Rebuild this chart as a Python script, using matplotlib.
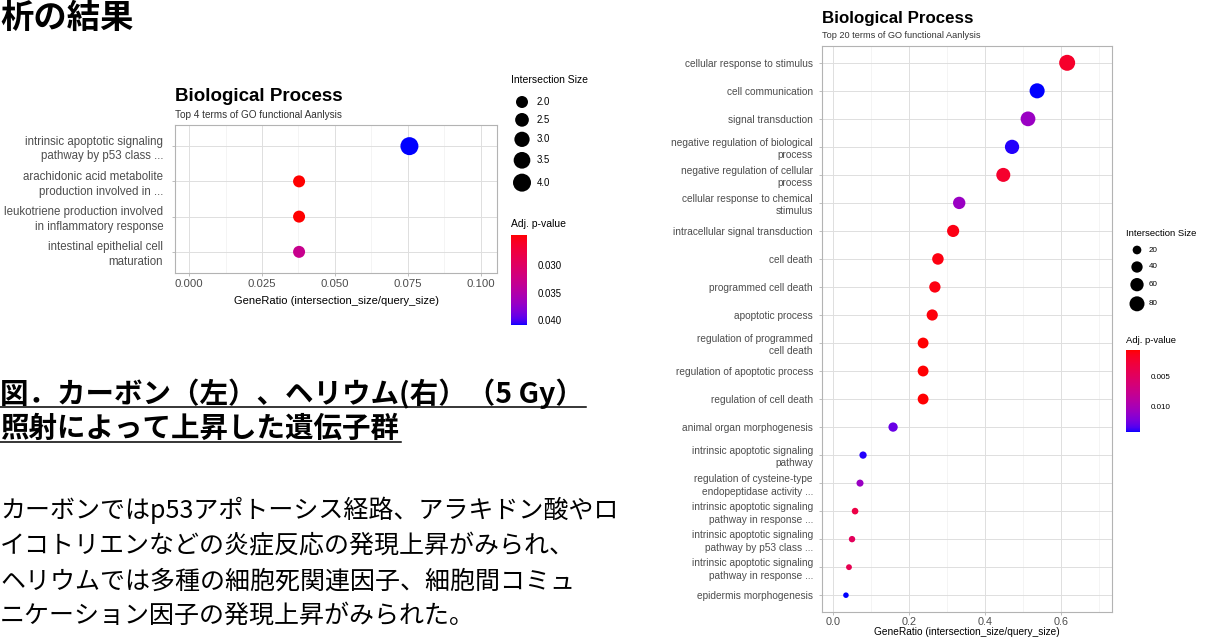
import numpy as np
import matplotlib
matplotlib.use("Agg")
import matplotlib.pyplot as plt
from matplotlib.colors import ListedColormap, Normalize
from matplotlib.cm import ScalarMappable
from matplotlib.lines import Line2D

W, H = 1207, 641

# ---- left panel (carbon) ----
left_terms = [
    "intrinsic apoptotic signaling\npathway by p53 class ...",
    "arachidonic acid metabolite\nproduction involved in ...",
    "leukotriene production involved\nin inflammatory response",
    "intestinal epithelial cell\nmaturation",
]
left_ratio = [0.0755, 0.0377, 0.0377, 0.0377]
left_size = [4, 2, 2, 2]
left_padj = [0.0409, 0.0245, 0.0245, 0.0330]
left_xticks = [0.000, 0.025, 0.050, 0.075, 0.100]
left_size_keys = [2.0, 2.5, 3.0, 3.5, 4.0]
left_p_ticks = [0.030, 0.035, 0.040]

# ---- right panel (helium) ----
right_terms = [
    "cellular response to stimulus",
    "cell communication",
    "signal transduction",
    "negative regulation of biological\nprocess",
    "negative regulation of cellular\nprocess",
    "cellular response to chemical\nstimulus",
    "intracellular signal transduction",
    "cell death",
    "programmed cell death",
    "apoptotic process",
    "regulation of programmed\ncell death",
    "regulation of apoptotic process",
    "regulation of cell death",
    "animal organ morphogenesis",
    "intrinsic apoptotic signaling\npathway",
    "regulation of cysteine-type\nendopeptidase activity ...",
    "intrinsic apoptotic signaling\npathway in response ...",
    "intrinsic apoptotic signaling\npathway by p53 class ...",
    "intrinsic apoptotic signaling\npathway in response ...",
    "epidermis morphogenesis",
]
right_ratio = [0.616, 0.537, 0.513, 0.471, 0.448, 0.332, 0.316, 0.276, 0.268, 0.261,
               0.237, 0.237, 0.237, 0.158, 0.079, 0.071, 0.058, 0.050, 0.042, 0.034]
right_size = [93, 81, 77, 71, 68, 50, 48, 42, 40, 39, 36, 36, 36, 24, 12, 11, 9, 8, 6, 5]
right_padj = [0.0019, 0.0142, 0.0108, 0.0140, 0.0020, 0.0108, 0.0010, 0.0009, 0.0009, 0.0008,
              0.0006, 0.0006, 0.0006, 0.0128, 0.0140, 0.0108, 0.0033, 0.0046, 0.0040, 0.0142]
right_xticks = [0.0, 0.2, 0.4, 0.6]
right_size_keys = [20, 40, 60, 80]
right_p_ticks = [0.005, 0.010]

# ---- slide text ----
top_text = "析の結果"
heading = ["図．カーボン（左）、ヘリウム(右）（5 Gy）", "照射によって上昇した遺伝子群"]
body = [
    "カーボンではp53アポトーシス経路、アラキドン酸やロ",
    "イコトリエンなどの炎症反応の発現上昇がみられ、",
    "ヘリウムでは多種の細胞死関連因子、細胞間コミュ",
    "ニケーション因子の発現上昇がみられた。",
]

plt.rcParams["font.family"] = ["Liberation Sans", "DejaVu Sans"]
JP = ["Noto Sans CJK JP", "DejaVu Sans"]
PT = 0.72  # points per pixel at dpi 100


def box(l, t, r, b):
    return [l / W, 1 - b / H, (r - l) / W, (b - t) / H]


# red -> blue gradient interpolated in CIELAB, like ggplot's scale_colour_gradient
def _to_lab(rgb):
    c = np.asarray(rgb, float)
    lin = np.where(c <= 0.04045, c / 12.92, ((c + 0.055) / 1.055) ** 2.4)
    M = np.array([[0.4124, 0.3576, 0.1805], [0.2126, 0.7152, 0.0722], [0.0193, 0.1192, 0.9505]])
    xyz = M @ lin / (M @ np.ones(3))
    f = np.where(xyz > (6 / 29) ** 3, np.cbrt(xyz), xyz / (3 * (6 / 29) ** 2) + 4 / 29)
    return np.array([116 * f[1] - 16, 500 * (f[0] - f[1]), 200 * (f[1] - f[2])])


def _from_lab(lab):
    L, a, b = lab
    fy = (L + 16) / 116
    f = np.array([fy + a / 500, fy, fy - b / 200])
    xyz = np.where(f > 6 / 29, f ** 3, 3 * (6 / 29) ** 2 * (f - 4 / 29))
    M = np.array([[0.4124, 0.3576, 0.1805], [0.2126, 0.7152, 0.0722], [0.0193, 0.1192, 0.9505]])
    lin = np.linalg.solve(M, xyz * (M @ np.ones(3)))
    lin = np.clip(lin, 0, 1)
    return np.where(lin <= 0.0031308, 12.92 * lin, 1.055 * lin ** (1 / 2.4) - 0.055)


lab_r, lab_b = _to_lab([1, 0, 0]), _to_lab([0, 0, 1])
cmap = ListedColormap([_from_lab(lab_r + (lab_b - lab_r) * t) for t in np.linspace(0, 1, 256)])


def diam_fn(v0, d0, v1, d1):
    b = (d1 - d0) / (np.sqrt(v1) - np.sqrt(v0))
    a = d0 - b * np.sqrt(v0)
    return lambda v: a + b * np.sqrt(np.asarray(v, float))


fig = plt.figure(figsize=(W / 100, H / 100), dpi=100)
ov = fig.add_axes([0, 0, 1, 1], zorder=-1)
ov.set_xlim(0, W)
ov.set_ylim(H, 0)
ov.axis("off")


def dot_panel(rect, terms, ratio, size, padj, norm, diam, xlim, xticks, xfmt, minor,
              lab_fs, tick_fs, xlab_fs, xlab_y, ypad, xpad, lsp):
    ax = fig.add_axes(rect)
    n = len(terms)
    y = np.arange(n)
    ax.scatter(ratio, y, s=(diam(size) * PT) ** 2, c=padj, cmap=cmap, norm=norm,
               linewidths=0, zorder=3)
    ax.set_xlim(*xlim)
    ax.set_ylim(n - 0.4, -0.6)
    ax.set_yticks(y)
    ax.set_yticklabels(terms, fontsize=lab_fs, color="#4D4D4D", linespacing=lsp)
    ax.set_xticks(xticks)
    ax.set_xticklabels([xfmt.format(v) for v in xticks], fontsize=tick_fs, color="#4D4D4D")
    ax.set_xticks(minor, minor=True)
    ax.tick_params(axis="x", which="minor", length=0)
    ax.tick_params(axis="y", length=2.5, pad=ypad, color="#B3B3B3", width=0.6)
    ax.tick_params(axis="x", which="major", length=2.5, pad=xpad, color="#B3B3B3", width=0.6)
    ax.grid(True, which="major", color="#DEDEDE", lw=0.7, zorder=0)
    ax.grid(True, which="minor", axis="x", color="#EFEFEF", lw=0.45, zorder=0)
    ax.set_axisbelow(True)
    for sp in ax.spines.values():
        sp.set_color("#B3B3B3")
        sp.set_linewidth(0.8)
    ax.set_xlabel("GeneRatio (intersection_size/query_size)", fontsize=xlab_fs, color="black")
    ax.xaxis.set_label_coords(0.5, xlab_y)
    ax.xaxis.label.set_va("center")
    return ax


def legends(x0, title_y, key_y0, keys, diam, kfmt, key_fs, title_fs, cb_box, cb_title_y,
            norm, pticks, lab_dx):
    ov.text(x0, title_y, "Intersection Size", fontsize=title_fs, va="baseline", ha="left")
    d = diam(keys)
    h = np.maximum(17, d + 5)
    cy = key_y0 + np.concatenate([[0], np.cumsum((h[:-1] + h[1:]) / 2)])
    cx = x0 + 11
    ov.scatter(np.full(len(keys), cx), cy, s=(d * PT) ** 2, color="black", linewidths=0)
    for v, yy in zip(keys, cy):
        ov.text(cx + lab_dx, yy, kfmt.format(v), fontsize=key_fs, va="center", ha="left")
    ov.text(x0, cb_title_y, "Adj. p-value", fontsize=title_fs, va="baseline", ha="left")
    cax = fig.add_axes(box(*cb_box))
    cb = fig.colorbar(ScalarMappable(norm=norm, cmap=cmap), cax=cax)
    cb.outline.set_visible(False)
    cb.set_ticks(pticks)
    cb.set_ticklabels(["{:.3f}".format(v) for v in pticks])
    cax.tick_params(length=3, width=0.6, color="white", labelsize=key_fs, pad=5)
    cax.invert_yaxis()


# left panel
lnorm = Normalize(min(left_padj), max(left_padj))
ldiam = diam_fn(2, 12, 4, 18)
dot_panel(box(175, 125, 497, 273), left_terms, left_ratio, left_size, left_padj, lnorm, ldiam,
          (-0.0048, 0.1055), left_xticks, "{:.3f}", [0.0125, 0.0375, 0.0625, 0.0875],
          8.3, 8.2, 8.0, -0.19, 6.0, 1.5, 1.3)
ov.text(175, 101, "Biological Process", fontsize=13.5, fontweight="bold", va="baseline")
ov.text(175, 118, "Top 4 terms of GO functional Aanlysis", fontsize=7.2, color="#333333",
        va="baseline")
legends(511, 83, 102, left_size_keys, ldiam, "{:.1f}", 6.9, 7.5, (511, 235, 527, 325), 227,
        lnorm, left_p_ticks, 15)

# right panel
rnorm = Normalize(min(right_padj) - 0.0001, max(right_padj))
rdiam = diam_fn(20, 8.7, 80, 15)
dot_panel(box(822, 46, 1112, 612), right_terms, right_ratio, right_size, right_padj, rnorm, rdiam,
          (-0.029, 0.734), right_xticks, "{:.1f}", [0.1, 0.3, 0.5, 0.7],
          7.3, 7.8, 7.3, -0.035, 4.0, 1.2, 1.3)
ov.text(822, 23, "Biological Process", fontsize=12.2, fontweight="bold", va="baseline")
ov.text(822, 38, "Top 20 terms of GO functional Aanlysis", fontsize=6.6, color="#333333",
        va="baseline")
legends(1126, 236, 250, right_size_keys, rdiam, "{:g}", 5.8, 6.8, (1126, 350, 1140, 432), 343,
        rnorm, right_p_ticks, 12)

# slide text
ov.text(0, 18, top_text, fontsize=24, fontweight="bold", family=JP, va="center")
heads = []
for txt, yy in zip(heading, [394, 429]):
    heads.append(ov.text(0, yy, txt, fontsize=20.5, fontweight="bold", family=JP, va="center"))
for txt, yy in zip(body, [510, 546, 582, 616]):
    ov.text(0, yy, txt, fontsize=18, family=JP, va="center")

fig.canvas.draw()
r = fig.canvas.get_renderer()
for t, uy in zip(heads, [407, 442]):
    bb = t.get_window_extent(r)
    fig.add_artist(Line2D([0, (bb.x1 + 2) / W], [1 - uy / H, 1 - uy / H],
                          transform=fig.transFigure, color="black", lw=1.1))

fig.savefig("out.png", dpi=100)
